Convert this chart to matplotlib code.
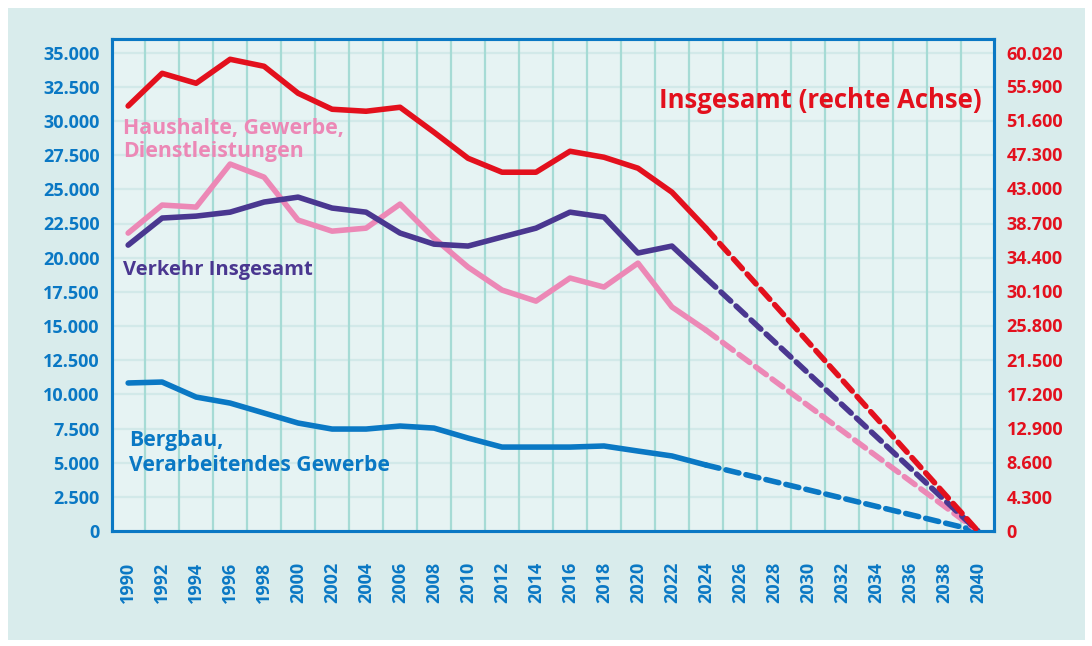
import numpy as np
import matplotlib.pyplot as plt

# Data
years = [1990, 1992, 1994, 1996, 1998, 2000, 2002, 2004, 2006, 2008,
         2010, 2012, 2014, 2016, 2018, 2020, 2022, 2024]

insgesamt = [53330, 57430, 56180, 59190, 58310, 54930, 52920, 52670, 53170, 50030,
             46770, 45020, 45020, 47650, 46900, 45520, 42510, 38000]
haushalte = [21800, 23850, 23700, 26850, 25890, 22750, 21940, 22160, 23920, 21430,
             19310, 17630, 16820, 18510, 17850, 19600, 16390, 14700]
verkehr = [20920, 22900, 23040, 23330, 24070, 24430, 23630, 23330, 21800, 20990,
           20850, 21510, 22160, 23330, 22970, 20340, 20850, 18510]
bergbau = [10830, 10900, 9800, 9360, 8630, 7900, 7460, 7460, 7680, 7530,
           6800, 6140, 6140, 6140, 6220, 5850, 5490, 4830]

target_year = 2040
target_value = 0

left_ticks = [0, 2500, 5000, 7500, 10000, 12500, 15000, 17500, 20000,
              22500, 25000, 27500, 30000, 32500, 35000]
right_ticks = [0, 4300, 8600, 12900, 17200, 21500, 25800, 30100, 34400,
               38700, 43000, 47300, 51600, 55900, 60020]
x_ticks = list(range(1990, 2041, 2))

# Colours
RED = '#e3101d'
PINK = '#ec88b6'
PURPLE = '#4a3790'
BLUE = '#0a78c4'
PANEL = '#d9ecec'
AXBG = '#e6f3f3'
VGRID = '#a6dbd5'
HGRID = '#d2e9e9'

FONT = 'Open Sans'


def fmt(v):
    return '{:,}'.format(v).replace(',', '.')


fig = plt.figure(figsize=(10.92, 6.46), dpi=100)
fig.patch.set_facecolor('white')
fig.add_artist(plt.Rectangle((8 / 1092, 6 / 646), 1077 / 1092, 632 / 646,
                             transform=fig.transFigure, facecolor=PANEL,
                             edgecolor='none', zorder=-10))

ax = fig.add_axes([112 / 1092, 1 - 531 / 646, 882 / 1092, 492 / 646])
ax.set_facecolor(AXBG)
ax.set_xlim(1989.05, 2040.95)
ax.set_ylim(0, 36000)

ax2 = ax.twinx()
ax2.set_ylim(0, 36000 * 60020 / 35000)

# grid
for yr in range(1991, 2040, 2):
    ax.axvline(yr, color=VGRID, lw=1.6, zorder=1)
for v in left_ticks[1:]:
    ax.axhline(v, color=HGRID, lw=1.6, zorder=0.5)

# series: solid history, dashed path to 2040
lw = 4.0
for vals, col, axis in [(bergbau, BLUE, ax), (haushalte, PINK, ax),
                        (verkehr, PURPLE, ax), (insgesamt, RED, ax2)]:
    axis.plot(years, vals, color=col, lw=lw, solid_capstyle='round',
              solid_joinstyle='round', zorder=5)
    axis.plot([years[-1], target_year], [vals[-1], target_value], color=col,
              lw=lw, ls=(0, (2.4, 1.3)), dash_capstyle='round', zorder=5)

# ticks
ax.set_yticks(left_ticks)
ax.set_yticklabels([fmt(v) for v in left_ticks])
ax2.set_yticks(right_ticks)
ax2.set_yticklabels([fmt(v) for v in right_ticks])
ax.set_xticks(x_ticks)
ax.set_xticklabels([str(y) for y in x_ticks], rotation=90)

ax.tick_params(axis='y', length=0, pad=9, labelcolor=BLUE, labelsize=13)
ax.tick_params(axis='x', length=0, pad=22, labelcolor=BLUE, labelsize=13)
ax2.tick_params(axis='y', length=0, pad=9, labelcolor=RED, labelsize=13)
for lab in ax.get_xticklabels() + ax.get_yticklabels() + ax2.get_yticklabels():
    lab.set_fontfamily(FONT)
    lab.set_fontweight('bold')

for a in (ax, ax2):
    for s in a.spines.values():
        s.set_color(BLUE)
        s.set_linewidth(2.2)

# labels
ax.text(2040.2, 31530, 'Insgesamt (rechte Achse)', color=RED, fontsize=18.5,
        fontweight='bold', family=FONT, ha='right', va='center', zorder=6)
ax.text(1989.7, 28600, 'Haushalte, Gewerbe,\nDienstleistungen', color=PINK,
        fontsize=15.3, fontweight='bold', family=FONT, ha='left', va='center',
        linespacing=1.12, zorder=6)
ax.text(1989.7, 19090, 'Verkehr Insgesamt', color=PURPLE, fontsize=14.5,
        fontweight='bold', family=FONT, ha='left', va='center', zorder=6)
ax.text(1990.05, 5700, 'Bergbau,\nVerarbeitendes Gewerbe', color=BLUE,
        fontsize=15.2, fontweight='bold', family=FONT, ha='left', va='center',
        linespacing=1.25, zorder=6)

fig.savefig('out.png', dpi=100, facecolor=fig.get_facecolor())
